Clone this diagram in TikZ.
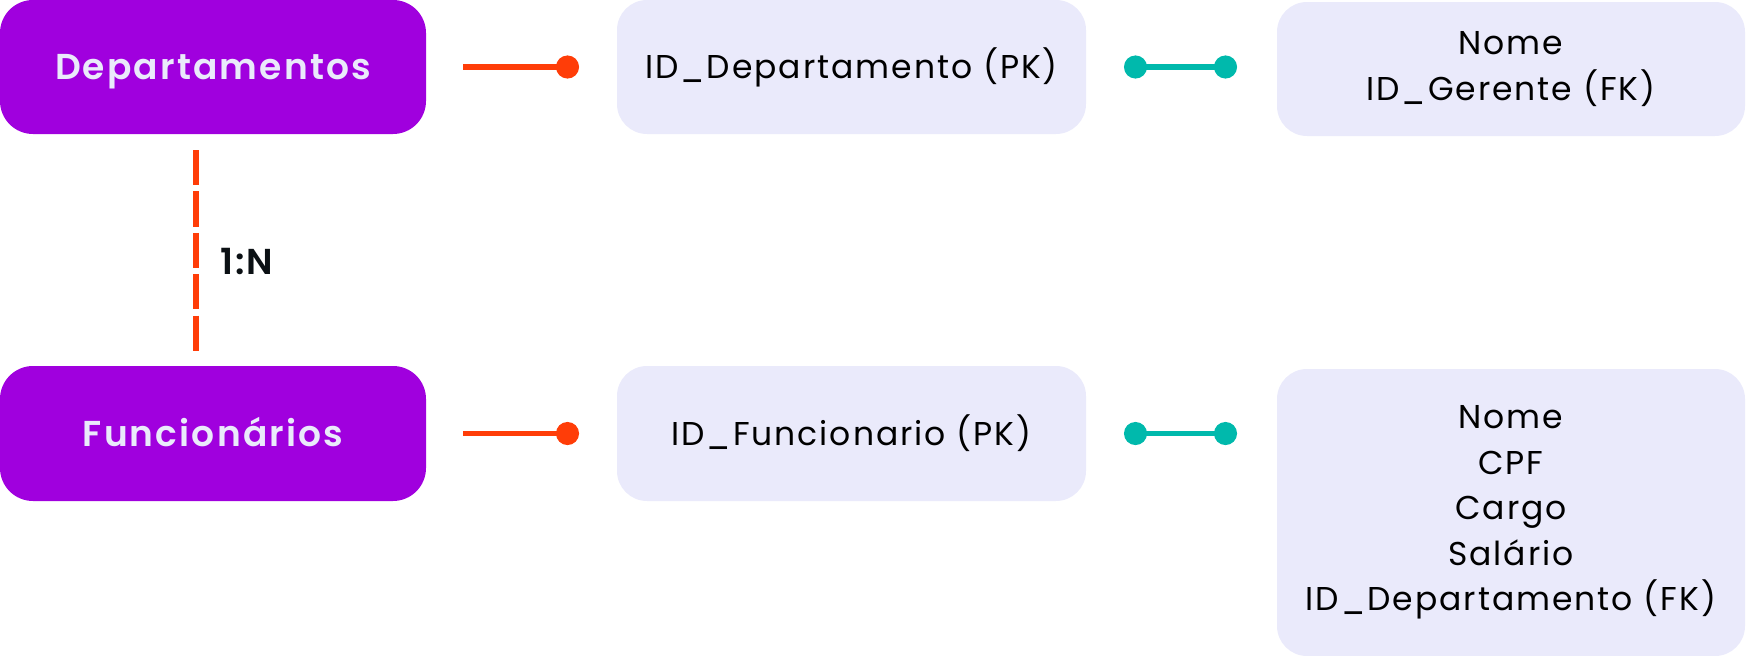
\documentclass[tikz,border=0pt]{standalone}
\usepackage{fontspec}
\setmainfont{Poppins}[LetterSpace=6, BoldFont={Poppins SemiBold}]
\usepackage{tikz}
\usetikzlibrary{positioning,arrows.meta}
\definecolor{roxo}{HTML}{A000DE}
\definecolor{lavanda}{HTML}{EAEAFB}
\definecolor{laranja}{HTML}{FF3D08}
\definecolor{verde}{HTML}{00B9AC}
\definecolor{tinta}{HTML}{0B1014}

\begin{document}
\begin{tikzpicture}[x=1pt, y=-1pt, node distance=191pt,
        entidade/.style={rectangle, rounded corners=33pt, fill=roxo, text=lavanda, minimum width=426pt, minimum height=134pt, inner sep=0pt, outer sep=0pt, text height=32pt, text depth=7pt, font=\fontsize{36}{45}\selectfont\bfseries},
        chave/.style={rectangle, rounded corners=30pt, fill=lavanda, minimum width=469pt, minimum height=134pt, inner sep=0pt, outer sep=0pt, align=center, font=\fontsize{33}{45.5}\selectfont},
        atributo/.style={chave, minimum width=468pt},
        pk/.style={draw=laranja, line width=5.5pt, -{Circle[length=23pt]}, shorten <=37pt, shorten >=38pt},
        fk/.style={draw=verde, line width=5.5pt, {Circle[length=23pt]}-{Circle[length=23pt]}, shorten <=38pt, shorten >=40pt}]
        \useasboundingbox (0,0) rectangle (1746,656);

        \node (dep) [entidade] at (213,67) {Departamentos};
        \node (depid) [chave, right=of dep] {ID\_Departamento (PK)};
        \node (depattr) [atributo, right=of depid, yshift=-2pt] {Nome\\ID\_Gerente (FK)};

        \node (fun) [entidade, minimum height=135pt, below=232pt of dep] {Funcionários};
        \node (funid) [chave, minimum height=135pt, right=of fun] {ID\_Funcionario (PK)};
        \node (funattr) [atributo, minimum height=287pt, anchor=north west] at ([xshift=191pt, yshift=-3pt]funid.north east) {Nome\\CPF\\Cargo\\Salário\\ID\_Departamento (FK)};

        \draw[pk] (dep) -- (depid);
        \draw[pk] (fun) -- (funid);
        \draw[fk] (depid.east) -- (depid.east -| depattr.west);
        \draw[fk] (funid.east) -- (funid.east -| funattr.west);

        % relacao 1:N
        \draw[draw=laranja, line width=6pt, dash pattern=on 35.2pt off 6.2pt, shorten <=16pt, shorten >=15pt] ([xshift=-17pt]dep.south) -- ([xshift=-17pt]fun.north)
            node[pos=0.55, right=21pt, inner sep=0pt, text=tinta, font=\fontsize{36}{40}\selectfont\bfseries] {1:N};
    \end{tikzpicture}
\end{document}
